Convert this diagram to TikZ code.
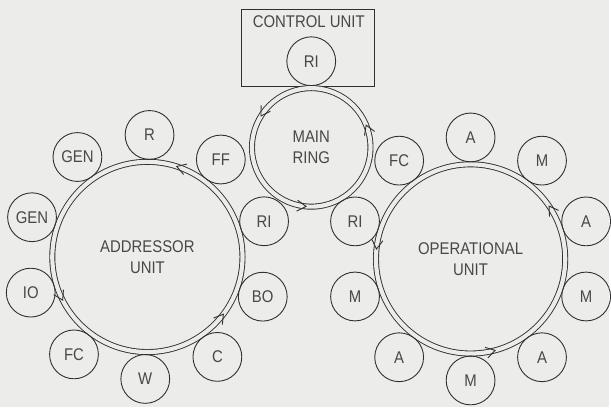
\documentclass[tikz,border=0pt]{standalone}
\usepackage{fontspec}
\setmainfont[FakeStretch=0.88]{Liberation Sans}
\usetikzlibrary{calc}
\definecolor{paper}{RGB}{236,236,234}
\definecolor{ink}{RGB}{48,48,48}
\definecolor{letter}{RGB}{72,72,72}
\tikzset{
  every node/.style={font=\fontsize{17}{21.5}\selectfont, text=letter},
  ring/.style={circle, draw=ink, line width=0.9pt, double=paper,
    double distance=4.2pt, inner sep=0pt, align=center},
  stn/.style={circle, draw=ink, line width=0.9pt, minimum size=49pt, inner sep=0pt},
  chev/.style={draw=ink, line width=0.9pt, line join=miter},
  boxframe/.style={draw=ink, line width=0.9pt, inner sep=0pt},
}
% open chevron on a ring: centre, mid radius, angle (points counter-clockwise)
\newcommand\ringmark[3]{\draw[chev, shift={(#1)}, rotate=#3]
  (#2-5.5,-9) -- (#2,0) -- (#2+5.5,-9);}

\begin{document}
\begin{tikzpicture}[x=1pt, y=1pt]
  \fill[paper] (0,0) rectangle (611,409);

  % ring centres
  \coordinate (cA) at (148,151);
  \coordinate (cM) at (312.5,261);
  \coordinate (cO) at (472.5,149);

  % control unit
  \node[boxframe, minimum width=134pt, minimum height=78pt] (cbox) at (309,361) {};
  \node (ctitle) at (310,387) {CONTROL UNIT};
  \node[stn] (cri) at (312.5,347.5) {RI};

  % rings
  \node[ring, minimum size=119pt] (main) at (cM) {MAIN\\RING};
  \node[ring, minimum size=191pt] (addr) at (cA) {ADDRESSOR\\UNIT};
  \node[ring, minimum size=190pt] (oper) at (cO) {OPERATIONAL\\UNIT};

  % addressor unit stations
  \node[stn] (a1)  at ($(cA)+(17:122.5)$)  {RI};
  \node[stn] (a2)  at ($(cA)+(53:122.5)$)  {FF};
  \node[stn] (a3)  at ($(cA)+(89:122.5)$)  {R};
  \node[stn] (a4)  at ($(cA)+(125:122.5)$) {GEN};
  \node[stn] (a5)  at ($(cA)+(161:122.5)$) {GEN};
  \node[stn] (a6)  at ($(cA)+(197:122.5)$) {IO};
  \node[stn] (a7)  at ($(cA)+(233:122.5)$) {FC};
  \node[stn] (a8)  at ($(cA)+(269:122.5)$) {W};
  \node[stn] (a9)  at ($(cA)+(305:122.5)$) {C};
  \node[stn] (a10) at ($(cA)+(341:122.5)$) {BO};

  % operational unit stations
  \node[stn] (o1)  at ($(cO)+(18:122)$)  {A};
  \node[stn] (o2)  at ($(cO)+(54:122)$)  {M};
  \node[stn] (o3)  at ($(cO)+(90:122)$)  {A};
  \node[stn] (o4)  at ($(cO)+(126:122)$) {FC};
  \node[stn] (o5)  at ($(cO)+(162:122)$) {RI};
  \node[stn] (o6)  at ($(cO)+(198:122)$) {M};
  \node[stn] (o7)  at ($(cO)+(234:122)$) {A};
  \node[stn] (o8)  at ($(cO)+(270:122)$) {M};
  \node[stn] (o9)  at ($(cO)+(306:122)$) {A};
  \node[stn] (o10) at ($(cO)+(342:122)$) {M};

  % direction marks on the rings
  \ringmark{cM}{59.5}{148}
  \ringmark{cM}{59.5}{265}
  \ringmark{cM}{59.5}{22}
  \ringmark{cA}{95.5}{72}
  \ringmark{cA}{95.5}{207}
  \ringmark{cA}{95.5}{323}
  \ringmark{cO}{95}{174}
  \ringmark{cO}{95}{285}
  \ringmark{cO}{95}{34}
\end{tikzpicture}
\end{document}
